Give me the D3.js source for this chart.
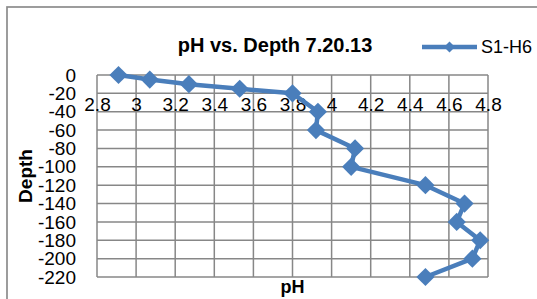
<!DOCTYPE html>
<html>
<head>
<meta charset="utf-8">
<script src="https://cdn.jsdelivr.net/npm/d3@7"></script>
<style>
  body { margin: 0; background: #fff; }
  text { font-family: "Liberation Sans", Arial, sans-serif; fill: #000; }
</style>
</head>
<body>
<div id="chart"></div>
<script>
// data
var seriesName = "S1-H6";
var depth = [0, -5, -10, -15, -20, -40, -60, -80, -100, -120, -140, -160, -180, -200, -220];
var ph = [2.91, 3.07, 3.27, 3.53, 3.80, 3.93, 3.92, 4.12, 4.10, 4.48, 4.68, 4.64, 4.76, 4.72, 4.48];
var xTicks = [2.8, 3, 3.2, 3.4, 3.6, 3.8, 4, 4.2, 4.4, 4.6, 4.8];
var yTicks = [0, -20, -40, -60, -80, -100, -120, -140, -160, -180, -200, -220];

var W = 537, H = 299;
var margin = { top: 75, right: 49, bottom: 22, left: 97 },
    width = W - margin.left - margin.right,
    height = H - margin.top - margin.bottom;

var blue = "#4a7ebb", gridCol = "#878787";

var svg = d3.select("#chart")
    .append("svg")
    .attr("width", W)
    .attr("height", H);

// chart area border (cut off at right / bottom)
svg.append("rect")
    .attr("x", 7)
    .attr("y", 7)
    .attr("width", W + 20)
    .attr("height", H + 20)
    .attr("fill", "none")
    .attr("stroke", "#8c8c8c")
    .attr("stroke-width", 1.7);

var g = svg.append("g")
    .attr("transform", "translate(" + margin.left + "," + margin.top + ")");

var x = d3.scaleLinear().domain([2.8, 4.8]).range([0, width]);
var y = d3.scaleLinear().domain([-220, 0]).range([height, 0]);

// gridlines
g.selectAll(".vgrid")
    .data(xTicks)
    .enter()
    .append("line")
    .attr("x1", function (d) { return x(d); })
    .attr("x2", function (d) { return x(d); })
    .attr("y1", 0)
    .attr("y2", height)
    .attr("stroke", gridCol)
    .attr("stroke-width", 1.5);

g.selectAll(".hgrid")
    .data(yTicks)
    .enter()
    .append("line")
    .attr("x1", 0)
    .attr("x2", width)
    .attr("y1", function (d) { return y(d); })
    .attr("y2", function (d) { return y(d); })
    .attr("stroke", gridCol)
    .attr("stroke-width", 1.5);

// y axis labels
var yAxis = g.append("g")
    .call(d3.axisLeft(y).tickValues(yTicks).tickSize(0).tickPadding(21).tickFormat(function (d) { return d; }));
yAxis.select(".domain").remove();
yAxis.selectAll("text")
    .style("font-size", "19px")
    .style("font-family", "Liberation Sans, Arial, sans-serif");

// x axis labels, hanging under the -20 line
var xAxis = g.append("g")
    .attr("transform", "translate(0," + y(-20) + ")")
    .call(d3.axisBottom(x).tickValues(xTicks).tickSize(0).tickPadding(4).tickFormat(function (d) { return d; }));
xAxis.select(".domain").remove();
xAxis.selectAll("text")
    .style("font-size", "19px")
    .style("font-family", "Liberation Sans, Arial, sans-serif");

// series line
var data = ph.map(function (v, i) { return { ph: v, depth: depth[i] }; });

var line = d3.line()
    .x(function (d) { return x(d.ph); })
    .y(function (d) { return y(d.depth); });

g.append("path")
    .datum(data)
    .attr("d", line)
    .attr("fill", "none")
    .attr("stroke", blue)
    .attr("stroke-width", 4.5)
    .attr("stroke-linejoin", "round");

var diamond = d3.symbol().type(d3.symbolSquare).size(165);

g.selectAll(".pt")
    .data(data)
    .enter()
    .append("path")
    .attr("d", diamond)
    .attr("fill", blue)
    .attr("transform", function (d) { return "translate(" + x(d.ph) + "," + y(d.depth) + ") rotate(45)"; });

// title
svg.append("text")
    .attr("x", 275)
    .attr("y", 52)
    .attr("text-anchor", "middle")
    .style("font-size", "20px")
    .style("font-weight", "bold")
    .text("pH vs. Depth 7.20.13");

// axis titles
svg.append("text")
    .attr("x", margin.left + width / 2)
    .attr("y", 293)
    .attr("text-anchor", "middle")
    .style("font-size", "18px")
    .style("font-weight", "bold")
    .text("pH");

svg.append("text")
    .attr("transform", "translate(32," + (margin.top + height / 2) + ") rotate(-90)")
    .attr("text-anchor", "middle")
    .style("font-size", "19px")
    .style("font-weight", "bold")
    .text("Depth");

// legend
var leg = svg.append("g").attr("transform", "translate(422,47)");
leg.append("line")
    .attr("x1", 0).attr("x2", 55)
    .attr("stroke", blue)
    .attr("stroke-width", 4.5);
leg.append("path")
    .attr("d", d3.symbol().type(d3.symbolSquare).size(60))
    .attr("fill", blue)
    .attr("transform", "translate(27.5,0) rotate(45)");
leg.append("text")
    .attr("x", 59)
    .attr("dy", "0.35em")
    .style("font-size", "18px")
    .text(seriesName);
</script>
</body>
</html>
